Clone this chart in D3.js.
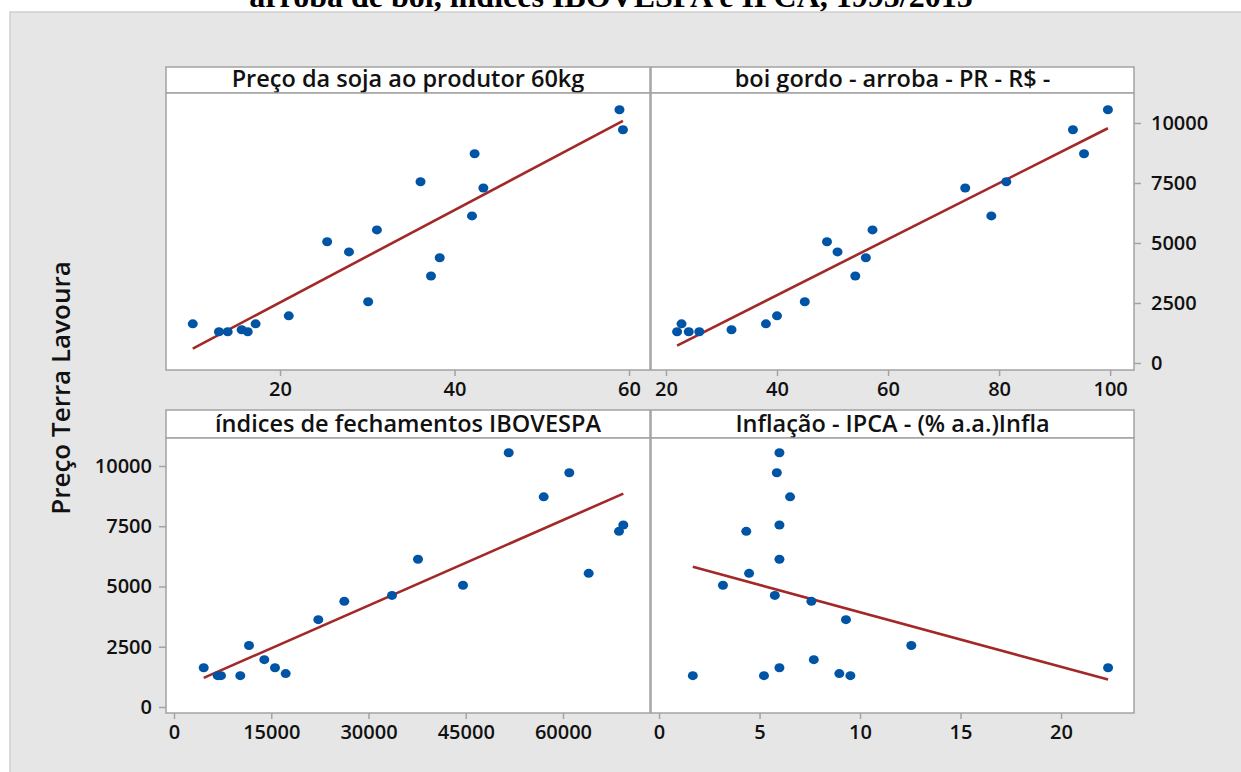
<!DOCTYPE html>
<html>
<head>
<meta charset="utf-8">
<script src="https://cdn.jsdelivr.net/npm/d3@7"></script>
<style>
  body { margin: 0; background: #fff; }
  svg { display: block; }
</style>
</head>
<body>
<script>
// 1995..2013
const years = [1995,1996,1997,1998,1999,2000,2001,2002,2003,2004,2005,2006,2007,2008,2009,2010,2011,2012,2013];
const precoTerra = [1630,1300,1300,1300,1385,1630,1965,2550,3625,4385,4630,5050,5545,6130,7290,7550,8720,9720,10550];
const soja = [10.0,14.0,16.3,13.0,15.6,17.2,21.0,30.1,37.3,38.3,27.9,25.4,31.1,42.0,43.3,36.1,42.3,59.3,58.9];
const boi = [22.8,24.1,26.0,22.0,31.8,38.0,40.0,45.0,54.1,56.0,50.9,49.0,57.2,78.6,73.9,81.3,95.3,93.3,99.6];
const ibovespa = [4581,7250,10227,6741,17230,15579,13929,11569,22258,26269,33627,44578,63967,37637,68640,69306,57026,60975,51628];
const ipca = [22.34,9.52,5.22,1.68,8.97,5.99,7.70,12.55,9.30,7.58,5.76,3.18,4.48,5.99,4.34,5.99,6.52,5.86,5.99];

const yTicks = [0,2500,5000,7500,10000];

var panels = [
  {title: "Preço da soja ao produtor 60kg", xs: soja, domain: [6.93, 62.4], ticks: [20,40,60],
   col: 0, row: 0, yAxis: null},
  {title: "boi gordo - arroba - PR - R$ -", xs: boi, domain: [17.3, 104.3], ticks: [20,40,60,80,100],
   col: 1, row: 0, yAxis: "right"},
  {title: "índices de fechamentos IBOVESPA", xs: ibovespa, domain: [-1234, 73424], ticks: [0,15000,30000,45000,60000],
   col: 0, row: 1, yAxis: "left"},
  {title: "Inflação - IPCA - (% a.a.)Infla", xs: ipca, domain: [-0.4, 23.63], ticks: [0,5,10,15,20],
   col: 1, row: 1, yAxis: null}
];

var cols = [[166, 650], [651, 1134]];
var rows = [{strip: 67, top: 93, bottom: 370, ydom: [-292, 11250]},
            {strip: 410, top: 438, bottom: 713, ydom: [-249, 11162]}];

var font = "'Open Sans', 'Noto Sans', sans-serif";
var border = "#a3a3a3";

var svg = d3.select("body").append("svg")
    .attr("width", 1241)
    .attr("height", 772);

// clipped title at the very top
svg.append("text")
    .attr("x", 611)
    .attr("y", 7)
    .attr("text-anchor", "middle")
    .attr("font-family", "'Liberation Serif', 'Times New Roman', serif")
    .attr("font-weight", "bold")
    .attr("font-size", 32)
    .text("arroba de boi, índices IBOVESPA e IPCA, 1995/2015");

svg.append("rect")
    .attr("x", 10).attr("y", 12)
    .attr("width", 1240).attr("height", 770)
    .attr("fill", "#e6e6e6")
    .attr("stroke", "#cfcfcf")
    .attr("stroke-width", 1.5);

svg.append("text")
    .attr("transform", "translate(70,388) rotate(-90)")
    .attr("text-anchor", "middle")
    .attr("font-family", font)
    .attr("font-weight", 600)
    .attr("font-size", 26)
    .attr("fill", "#111")
    .text("Preço Terra Lavoura");

function fit(xs, ys) {
    var n = xs.length;
    var mx = d3.mean(xs), my = d3.mean(ys);
    var sxy = 0, sxx = 0;
    for (var i = 0; i < n; i++) {
        sxy += (xs[i] - mx) * (ys[i] - my);
        sxx += (xs[i] - mx) * (xs[i] - mx);
    }
    var b = sxy / sxx;
    return {a: my - b * mx, b: b};
}

panels.forEach(p => {
    var c = cols[p.col], r = rows[p.row];
    var x = d3.scaleLinear().domain(p.domain).range([c[0], c[1]]);
    var y = d3.scaleLinear().domain(r.ydom).range([r.bottom, r.top]);

    var g = svg.append("g");

    // strip
    g.append("rect")
        .attr("x", c[0]).attr("y", r.strip)
        .attr("width", c[1] - c[0]).attr("height", r.top - r.strip)
        .attr("fill", "#fff").attr("stroke", border).attr("stroke-width", 1.5);
    g.append("text")
        .attr("x", (c[0] + c[1]) / 2)
        .attr("y", r.top - 6)
        .attr("text-anchor", "middle")
        .attr("font-family", font)
        .attr("font-weight", 600)
        .attr("font-size", 23.5)
        .attr("fill", "#111")
        .text(p.title);

    // plot area
    g.append("rect")
        .attr("x", c[0]).attr("y", r.top)
        .attr("width", c[1] - c[0]).attr("height", r.bottom - r.top)
        .attr("fill", "#fff").attr("stroke", border).attr("stroke-width", 1.5);

    // x axis
    var xa = g.append("g")
        .attr("transform", "translate(0," + r.bottom + ")")
        .call(d3.axisBottom(x).tickValues(p.ticks).tickSize(6).tickPadding(6).tickFormat(d3.format("d")));
    styleAxis(xa);

    if (p.yAxis == "right") {
        var ya = g.append("g")
            .attr("transform", "translate(" + c[1] + ",0)")
            .call(d3.axisRight(y).tickValues(yTicks).tickSize(7).tickPadding(10).tickFormat(d3.format("d")));
        styleAxis(ya);
    }
    if (p.yAxis == "left") {
        var ya2 = g.append("g")
            .attr("transform", "translate(" + c[0] + ",0)")
            .call(d3.axisLeft(y).tickValues(yTicks).tickSize(7).tickPadding(7).tickFormat(d3.format("d")));
        styleAxis(ya2);
    }

    // regression line
    var f = fit(p.xs, precoTerra);
    var ext = d3.extent(p.xs);
    g.append("line")
        .attr("x1", x(ext[0])).attr("y1", y(f.a + f.b * ext[0]))
        .attr("x2", x(ext[1])).attr("y2", y(f.a + f.b * ext[1]))
        .attr("stroke", "#a32828")
        .attr("stroke-width", 2.6);

    // points
    g.selectAll("ellipse")
        .data(years)
        .enter()
        .append("ellipse")
        .attr("cx", (d, i) => x(p.xs[i]))
        .attr("cy", (d, i) => y(precoTerra[i]))
        .attr("rx", 5)
        .attr("ry", 4.5)
        .attr("fill", "#0054a6");
});

function styleAxis(a) {
    a.select(".domain").remove();
    a.selectAll(".tick line").attr("stroke", border).attr("stroke-width", 1.5);
    a.selectAll(".tick text")
        .attr("font-family", font)
        .attr("font-weight", 600)
        .attr("font-size", 20)
        .attr("fill", "#111");
}
</script>
</body>
</html>
